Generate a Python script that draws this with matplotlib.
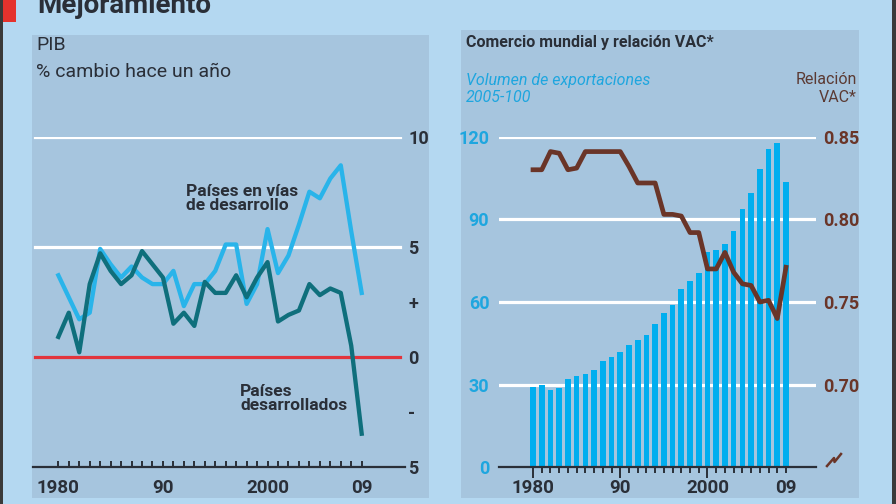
import matplotlib
matplotlib.use("Agg")
import matplotlib.pyplot as plt
from matplotlib.patches import Rectangle
from matplotlib.lines import Line2D

plt.rcParams['font.family'] = ['Liberation Sans Narrow', 'Roboto', 'DejaVu Sans']

# --- data ---
years = list(range(1980, 2010))
developing = [3.7, 2.7, 1.7, 2.0, 4.9, 4.2, 3.6, 4.1, 3.6, 3.3,
              3.3, 3.9, 2.3, 3.3, 3.3, 3.9, 5.1, 5.1, 2.4, 3.3,
              5.8, 3.8, 4.6, 6.0, 7.5, 7.2, 8.1, 8.7, 5.7, 2.9]
developed = [0.9, 2.0, 0.2, 3.3, 4.7, 3.9, 3.3, 3.7, 4.8, 4.2,
             3.6, 1.5, 2.0, 1.4, 3.4, 2.9, 2.9, 3.7, 2.7, 3.6,
             4.3, 1.6, 1.9, 2.1, 3.3, 2.8, 3.1, 2.9, 0.5, -3.5]
exports = [29.1, 29.9, 28.2, 28.9, 32.2, 33.0, 33.7, 35.4, 38.5, 40.0,
           41.8, 44.3, 46.1, 48.2, 52.1, 56.1, 58.8, 64.8, 67.8, 70.6,
           78.1, 78.7, 81.1, 85.7, 93.8, 99.5, 108.4, 115.6, 117.6, 103.7]
vac = [0.830, 0.830, 0.841, 0.840, 0.830, 0.831, 0.841, 0.841, 0.841, 0.841,
       0.841, 0.832, 0.822, 0.822, 0.822, 0.803, 0.803, 0.802, 0.792, 0.792,
       0.770, 0.770, 0.780, 0.768, 0.761, 0.760, 0.750, 0.751, 0.740, 0.771]
xlabels = {1980: '1980', 1990: '90', 2000: '2000', 2009: '09'}
gdp_ticks = [10, 5, 2.5, 0, -2.5, -5]
gdp_ticklabels = ['10', '5', '+', '0', '-', '5']
vol_ticks = [0, 30, 60, 90, 120]
vac_ticks = [0.70, 0.75, 0.80, 0.85]

# colours
BG = '#b4d8f1'
PANEL = '#a6c5de'
DARK = '#2a2f38'
LIGHTBLUE = '#29b4ea'
TEAL = '#0f6f7c'
BARBLUE = '#00aeef'
BROWN = '#6a3528'
RED = '#e2343c'

W, H = 896, 504


def box(x0, y0, x1, y1):
    return [x0 / W, 1 - y1 / H, (x1 - x0) / W, (y1 - y0) / H]


def fx(x):
    return x / W


def fy(y):
    return 1 - y / H


def frame_rect(x0, y0, x1, y1, color):
    fig.add_artist(Rectangle((fx(x0), fy(y1)), (x1 - x0) / W, (y1 - y0) / H,
                             transform=fig.transFigure, color=color, lw=0, zorder=-10))


fig = plt.figure(figsize=(W / 100, H / 100), dpi=100, facecolor=BG)

# frame pieces
frame_rect(0, 0, 2.5, 504, '#3a3a3a')
frame_rect(892, 0, 896, 504, '#3a3a3a')
frame_rect(2.5, 0, 16, 22, '#e5322d')
frame_rect(32, 35, 429, 498, PANEL)
frame_rect(461, 30, 859, 498, PANEL)

fig.text(fx(37), fy(13), 'Mejoramiento', fontsize=20, fontweight='bold', color=DARK, va='baseline')

# ---------------- left: GDP ----------------
ax = fig.add_axes(box(32.5, 136.7, 405, 466.7))
ax.patch.set_visible(False)
ax.set_xlim(1977.53, 2013.14)
ax.set_ylim(-5, 10)
for s in ['top', 'left', 'right']:
    ax.spines[s].set_visible(False)
ax.spines['bottom'].set_color(DARK)
ax.spines['bottom'].set_linewidth(1.6)

for v in [10, 5]:
    ax.axhline(v, xmin=0.007, xmax=0.987, color='white', lw=2.3, zorder=1)
ax.axhline(0, xmin=0.007, xmax=0.987, color=RED, lw=2.3, zorder=1)

ax.plot(years, developing, color=LIGHTBLUE, lw=3.1, zorder=3)
ax.plot(years, developed, color=TEAL, lw=3.1, zorder=3)

ax.yaxis.tick_right()
ax.set_yticks(gdp_ticks)
ax.set_yticklabels(gdp_ticklabels)
ax.tick_params(axis='y', length=0, pad=2.5, labelsize=13, labelcolor=DARK)
ax.set_xticks(years)
ax.set_xticklabels([xlabels.get(y, '') for y in years])
ax.tick_params(axis='x', direction='in', length=4.5, width=1.4, color=DARK,
               pad=9, labelsize=13.5, labelcolor=DARK)
for lab in ax.get_xticklabels() + ax.get_yticklabels():
    lab.set_fontweight('bold')

fig.text(fx(36), fy(45), 'PIB', fontsize=14, color=DARK, va='center')
fig.text(fx(36), fy(72), '% cambio hace un año', fontsize=14, color=DARK, va='center')
ax.text(1992.2, 7.2, 'Países en vías\nde desarrollo', fontsize=12.5, fontweight='bold',
        color=DARK, va='center', linespacing=0.9)
ax.text(1997.4, -1.9, 'Países\ndesarrollados', fontsize=12.5, fontweight='bold',
        color=DARK, va='center', linespacing=0.9)

# ---------------- right: trade ----------------
axr = fig.add_axes(box(499, 136.7, 816, 467.3))
axr.patch.set_visible(False)
axr.set_xlim(1976.1, 2012.44)
axr.set_ylim(0, 120)
for s in ['top', 'left', 'right']:
    axr.spines[s].set_visible(False)
axr.spines['bottom'].set_color(DARK)
axr.spines['bottom'].set_linewidth(1.6)

for v in [30, 60, 90, 120]:
    axr.axhline(v, color='white', lw=2.3, zorder=0.5)
axr.bar(years, exports, width=0.65, color=BARBLUE, zorder=2)

axr.set_yticks(vol_ticks)
axr.tick_params(axis='y', length=0, pad=7, labelsize=13, labelcolor='#1ea6df')
axr.set_xticks(years)
axr.set_xticklabels([xlabels.get(y, '') for y in years])
axr.tick_params(axis='x', direction='out', length=4.3, width=1.4, color=DARK,
                pad=4, labelsize=13.5, labelcolor=DARK)
for t, y in zip(axr.xaxis.get_major_ticks(), years):
    if y in (1980, 1990, 2000):
        t.tick1line.set_markersize(8)
for lab in axr.get_xticklabels() + axr.get_yticklabels():
    lab.set_fontweight('bold')

ax2 = axr.twinx()
ax2.patch.set_visible(False)
ax2.set_ylim(0.65, 0.85)
for s in ax2.spines.values():
    s.set_visible(False)
ax2.plot(years, vac, color=BROWN, lw=3.4, zorder=3)
ax2.set_yticks(vac_ticks)
ax2.set_yticklabels(['%.2f' % v for v in vac_ticks])
ax2.tick_params(axis='y', length=0, pad=5, labelsize=13, labelcolor=BROWN)
for lab in ax2.get_yticklabels():
    lab.set_fontweight('bold')

# axis break mark
fig.add_artist(Line2D([fx(827), fx(834), fx(834.5), fx(841)],
                      [fy(466), fy(458), fy(462), fy(454)],
                      transform=fig.transFigure, color=BROWN, lw=1.8))

fig.text(fx(466), fy(43), 'Comercio mundial y relación VAC*', fontsize=11.5,
         fontweight='bold', color=DARK, va='center')
fig.text(fx(466), fy(80), 'Volumen de exportaciones', fontsize=11.5,
         style='italic', color='#1ea6df', va='center')
fig.text(fx(466), fy(98), '2005-100', fontsize=11.5,
         style='italic', color='#1ea6df', va='center')
fig.text(fx(857), fy(80), 'Relación', fontsize=11.5, color='#5b3a33',
         va='center', ha='right')
fig.text(fx(857), fy(98), 'VAC*', fontsize=11.5, color='#5b3a33',
         va='center', ha='right')

fig.savefig('out.png', dpi=100, facecolor=BG)
